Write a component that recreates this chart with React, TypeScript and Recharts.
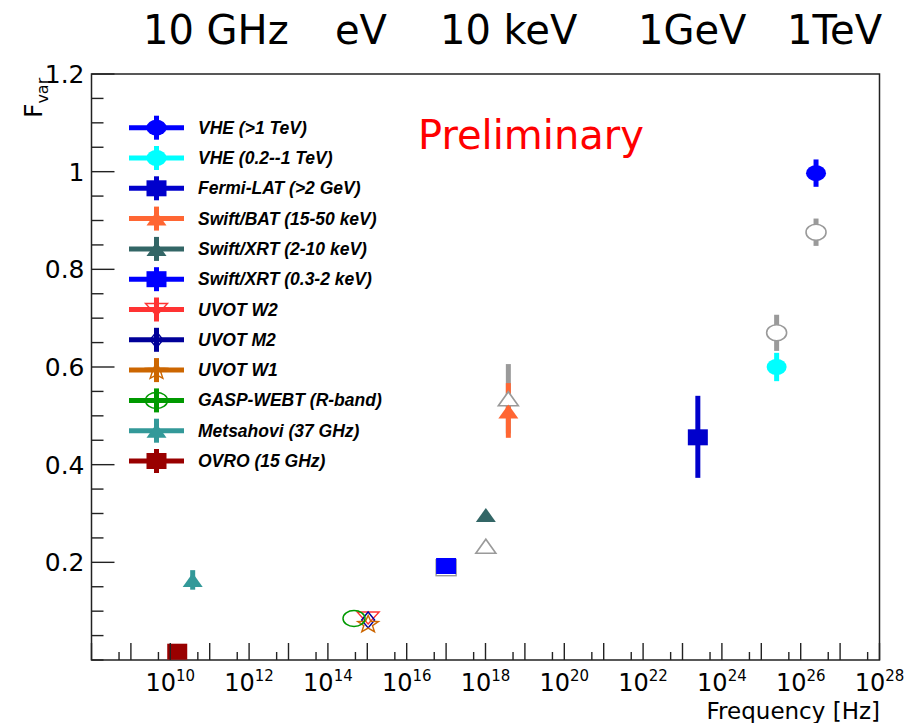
import React from "react";
import {
  ScatterChart,
  Scatter,
  XAxis,
  YAxis,
  ErrorBar,
  ReferenceArea,
  Legend,
} from "recharts";

type Pt = { nu: number; fvar: number; err: number | [number, number] };

// fractional variability per band (nu in Hz)
const VHE_HIGH: Pt[] = [{ nu: 2.45e26, fvar: 0.997, err: 0.028 }];
const VHE_LOW: Pt[] = [{ nu: 2.45e25, fvar: 0.6, err: 0.029 }];
const FERMI: Pt[] = [{ nu: 2.45e23, fvar: 0.456, err: [0.083, 0.085] }];
const BAT: Pt[] = [{ nu: 3.8e18, fvar: 0.509, err: [0.054, 0.058] }];
const XRT_HARD: Pt[] = [{ nu: 1.02e18, fvar: 0.297, err: 0.004 }];
const XRT_SOFT: Pt[] = [{ nu: 1.0e17, fvar: 0.1925, err: 0.003 }];
const UVOT_W2: Pt[] = [{ nu: 1.05e15, fvar: 0.086, err: 0 }];
const UVOT_M2: Pt[] = [{ nu: 1.05e15, fvar: 0.082, err: 0 }];
const UVOT_W1: Pt[] = [{ nu: 1.05e15, fvar: 0.075, err: 0 }];
const GASP: Pt[] = [{ nu: 4.6e14, fvar: 0.085, err: 0 }];
const METSAHOVI: Pt[] = [{ nu: 3.7e10, fvar: 0.164, err: 0.02 }];
const OVRO: Pt[] = [{ nu: 1.5e10, fvar: 0.017, err: 0 }];

// second data set, open grey markers
const GREY_CIRCLES: Pt[] = [
  { nu: 2.45e26, fvar: 0.876, err: 0.028 },
  { nu: 2.45e25, fvar: 0.67, err: 0.037 },
];
const GREY_TRIANGLES: Pt[] = [
  { nu: 3.8e18, fvar: 0.535, err: 0.071 },
  { nu: 1.02e18, fvar: 0.233, err: 0 },
];
const GREY_SQUARES: Pt[] = [{ nu: 1.0e17, fvar: 0.189, err: 0 }];

const X_DECADES = [
  1e8, 1e9, 1e10, 1e11, 1e12, 1e13, 1e14, 1e15, 1e16, 1e17, 1e18, 1e19, 1e20,
  1e21, 1e22, 1e23, 1e24, 1e25, 1e26, 1e27, 1e28,
];
const X_HALVES = [
  5e8, 5e9, 5e10, 5e11, 5e12, 5e13, 5e14, 5e15, 5e16, 5e17, 5e18, 5e19, 5e20,
  5e21, 5e22, 5e23, 5e24, 5e25, 5e26, 5e27,
];
const X_LABELLED = [10, 12, 14, 16, 18, 20, 22, 24, 26, 28];
const Y_TICKS = [
  0, 0.05, 0.1, 0.15, 0.2, 0.25, 0.3, 0.35, 0.4, 0.45, 0.5, 0.55, 0.6, 0.65,
  0.7, 0.75, 0.8, 0.85, 0.9, 0.95, 1, 1.05, 1.1, 1.15, 1.2,
];
const Y_LABELLED = [0.2, 0.4, 0.6, 0.8, 1, 1.2];

const ENERGY_LABELS = [
  { text: "10 GHz", x: 143 },
  { text: "eV", x: 335 },
  { text: "10 keV", x: 440 },
  { text: "1GeV", x: 638 },
  { text: "1TeV", x: 787 },
];

const W = 923;
const H = 723;
const GREY = "#9a9a9a";
const AXIS = "#222";

type Kind =
  | "circle"
  | "square"
  | "triUp"
  | "openCircle"
  | "openSquare"
  | "openTriUp"
  | "openTriDown"
  | "openDiamond"
  | "openStar"
  | "openEllipse";

type SeriesDef = { name: string; color: string; kind: Kind; data: Pt[] };

const SERIES: SeriesDef[] = [
  { name: "VHE (>1 TeV)", color: "#0000ff", kind: "circle", data: VHE_HIGH },
  { name: "VHE (0.2--1 TeV)", color: "#00ffff", kind: "circle", data: VHE_LOW },
  { name: "Fermi-LAT (>2 GeV)", color: "#0000cc", kind: "square", data: FERMI },
  { name: "Swift/BAT (15-50 keV)", color: "#ff6633", kind: "triUp", data: BAT },
  { name: "Swift/XRT (2-10 keV)", color: "#336666", kind: "triUp", data: XRT_HARD },
  { name: "Swift/XRT (0.3-2 keV)", color: "#0000ff", kind: "square", data: XRT_SOFT },
  { name: "UVOT W2", color: "#ff3333", kind: "openTriDown", data: UVOT_W2 },
  { name: "UVOT M2", color: "#000099", kind: "openDiamond", data: UVOT_M2 },
  { name: "UVOT W1", color: "#cc6600", kind: "openStar", data: UVOT_W1 },
  { name: "GASP-WEBT (R-band)", color: "#009900", kind: "openEllipse", data: GASP },
  { name: "Metsahovi (37 GHz)", color: "#339999", kind: "triUp", data: METSAHOVI },
  { name: "OVRO (15 GHz)", color: "#990000", kind: "square", data: OVRO },
];

const GREY_SERIES: SeriesDef[] = [
  { name: "grey-sq", color: GREY, kind: "openSquare", data: GREY_SQUARES },
  { name: "grey-tri", color: GREY, kind: "openTriUp", data: GREY_TRIANGLES },
  { name: "grey-circ", color: GREY, kind: "openCircle", data: GREY_CIRCLES },
];

function starPath(cx: number, cy: number, r: number) {
  const pts: string[] = [];
  for (let i = 0; i < 10; i++) {
    const a = -Math.PI / 2 + (i * Math.PI) / 5;
    const rr = i % 2 === 0 ? r : r * 0.42;
    pts.push(`${cx + rr * Math.cos(a) * 1.2},${cy + rr * Math.sin(a) + 1}`);
  }
  return "M" + pts.join("L") + "Z";
}

function marker(kind: Kind, cx: number, cy: number, color: string, openFill = "#fff") {
  switch (kind) {
    case "circle":
      return <ellipse cx={cx} cy={cy} rx={10} ry={8} fill={color} />;
    case "openCircle":
      return <ellipse cx={cx} cy={cy} rx={10} ry={8} fill={openFill} stroke={color} strokeWidth={1.6} />;
    case "square":
      return <rect x={cx - 10} y={cy - 8} width={20} height={16} fill={color} />;
    case "openSquare":
      return <rect x={cx - 10} y={cy - 8} width={20} height={16} fill={openFill} stroke={color} strokeWidth={1.4} />;
    case "triUp":
      return <path d={`M${cx - 10},${cy + 7}L${cx + 10},${cy + 7}L${cx},${cy - 7}Z`} fill={color} />;
    case "openTriUp":
      return (
        <path
          d={`M${cx - 10},${cy + 7}L${cx + 10},${cy + 7}L${cx},${cy - 7}Z`}
          fill={openFill}
          stroke={color}
          strokeWidth={1.6}
        />
      );
    case "openTriDown":
      return (
        <path
          d={`M${cx - 11},${cy - 6}L${cx + 11},${cy - 6}L${cx},${cy + 6}Z`}
          fill="none"
          stroke={color}
          strokeWidth={1.4}
        />
      );
    case "openDiamond":
      return (
        <path
          d={`M${cx},${cy - 8}L${cx + 6.5},${cy}L${cx},${cy + 8}L${cx - 6.5},${cy}Z`}
          fill="none"
          stroke={color}
          strokeWidth={1.4}
        />
      );
    case "openStar":
      return <path d={starPath(cx, cy, 9)} fill="none" stroke={color} strokeWidth={1.4} />;
    case "openEllipse":
      return <ellipse cx={cx} cy={cy} rx={11} ry={8} fill="none" stroke={color} strokeWidth={1.5} />;
  }
}

function FreqTick(props: any) {
  const { x, y, payload } = props;
  const v: number = payload.value;
  const exp = Math.round(Math.log10(v));
  const decade = Math.abs(Math.log10(v) - exp) < 1e-6;
  const len = decade ? 17 : 8;
  return (
    <g>
      <line x1={x} x2={x} y1={y} y2={y - len} stroke={AXIS} strokeWidth={1.4} />
      {decade && X_LABELLED.includes(exp) && (
        <text
          x={x}
          y={y + 31}
          textAnchor="middle"
          fontFamily="DejaVu Sans"
          fontSize={24}
          fill="#000"
        >
          <tspan>10</tspan>
          <tspan dy={-10} fontSize={15}>
            {exp}
          </tspan>
        </text>
      )}
    </g>
  );
}

function FvarTick(props: any) {
  const { x, y, payload } = props;
  const v: number = payload.value;
  const major = Y_LABELLED.includes(v);
  return (
    <g>
      <line x1={x} x2={x + (major ? 23 : 12)} y1={y} y2={y} stroke={AXIS} strokeWidth={1.4} />
      {major && (
        <text
          x={x - 7}
          y={y + 9}
          textAnchor="end"
          fontFamily="DejaVu Sans"
          fontSize={25}
          fill="#000"
        >
          {String(v)}
        </text>
      )}
    </g>
  );
}

// legend rows keep the band order of SERIES
function LegendBox() {
  return (
    <svg width={W} height={H} style={{ position: "absolute", left: 0, top: 0 }}>
      {SERIES.map((s, i) => {
        const cy = 127.7 + i * 30.3;
        const cx = 156.5;
        return (
          <g key={s.name}>
            <line x1={129} x2={184} y1={cy} y2={cy} stroke={s.color} strokeWidth={5} />
            <line x1={cx} x2={cx} y1={cy - 12} y2={cy + 12} stroke={s.color} strokeWidth={5} />
            {marker(s.kind, cx, cy, s.color, "none")}
            <text
              x={198}
              y={cy + 6}
              fontFamily="Liberation Sans"
              fontWeight="bold"
              fontStyle="italic"
              fontSize={17.5}
              fill="#000"
            >
              {s.name}
            </text>
          </g>
        );
      })}
    </svg>
  );
}

function renderSeries(s: SeriesDef, inLegend: boolean) {
  return (
    <Scatter
      key={s.name}
      name={s.name}
      data={s.data}
      fill={s.color}
      legendType={inLegend ? "circle" : "none"}
      isAnimationActive={false}
      shape={(p: any) => marker(s.kind, p.cx, p.cy, s.color)}
    >
      <ErrorBar
        dataKey="err"
        direction="y"
        width={0}
        strokeWidth={5}
        stroke={s.color}
        isAnimationActive={false}
      />
    </Scatter>
  );
}

export default function App() {
  return (
    <div
      style={{
        position: "absolute",
        left: 0,
        top: 0,
        width: W,
        height: H,
        background: "#fff",
      }}
    >
      <ScatterChart
        width={W}
        height={H}
        margin={{ top: 74, right: 43.5, bottom: 0, left: 0 }}
      >
        <XAxis
          dataKey="nu"
          type="number"
          scale="log"
          domain={[1e8, 1e28]}
          allowDataOverflow
          ticks={[...X_DECADES, ...X_HALVES]}
          interval={0}
          tickSize={0}
          tickMargin={0}
          axisLine={false}
          tickLine={false}
          height={63}
          tick={<FreqTick />}
        />
        <YAxis
          dataKey="fvar"
          type="number"
          domain={[0, 1.2]}
          allowDataOverflow
          ticks={Y_TICKS}
          interval={0}
          tickSize={0}
          tickMargin={0}
          axisLine={false}
          tickLine={false}
          width={91.5}
          tick={<FvarTick />}
        />
        <ReferenceArea
          x1={1e8}
          x2={1e28}
          y1={0}
          y2={1.2}
          fill="none"
          stroke={AXIS}
          strokeWidth={1.5}
          fillOpacity={0}
        />
        {GREY_SERIES.map((s) => renderSeries(s, false))}
        {SERIES.map((s) => renderSeries(s, true))}
        <Legend
          layout="horizontal"
          verticalAlign="middle"
          align="center"
          wrapperStyle={{ left: 0, top: 0, width: W, height: H, pointerEvents: "none" }}
          content={<LegendBox />}
        />
      </ScatterChart>
      <svg
        width={W}
        height={H}
        style={{ position: "absolute", left: 0, top: 0, pointerEvents: "none" }}
      >
        {ENERGY_LABELS.map((l) => (
          <text key={l.text} x={l.x} y={44} fontFamily="DejaVu Sans" fontSize={40} fill="#000">
            {l.text}
          </text>
        ))}
        <text x={418} y={149} fontFamily="DejaVu Sans" fontSize={40} fill="#ff0000">
          Preliminary
        </text>
        <text
          transform="translate(42,118) rotate(-90)"
          fontFamily="DejaVu Sans"
          fontSize={25}
          fill="#000"
        >
          <tspan>F</tspan>
          <tspan dy={6} fontSize={16}>
            var
          </tspan>
        </text>
        <text
          x={880}
          y={719}
          textAnchor="end"
          fontFamily="DejaVu Sans"
          fontSize={23}
          fill="#000"
        >
          Frequency [Hz]
        </text>
      </svg>
    </div>
  );
}
